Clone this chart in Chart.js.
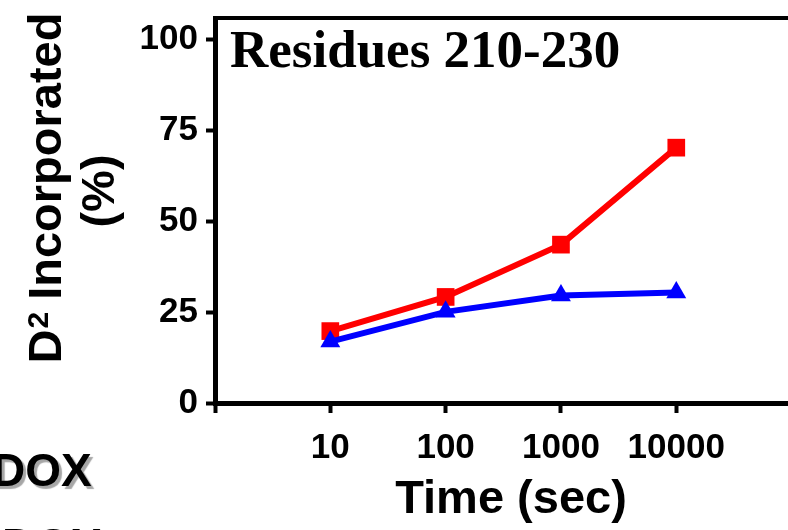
<!DOCTYPE html>
<html>
<head>
<meta charset="utf-8">
<script src="https://cdn.jsdelivr.net/npm/chart.js@4/dist/chart.umd.min.js"></script>
<style>
  html, body { margin: 0; padding: 0; background: #fff; }
  #wrap { width: 788px; height: 530px; overflow: hidden; position: relative; }
</style>
</head>
<body>
<div id="wrap"><canvas id="dexChart" width="830" height="530"></canvas></div>
<script>
// data
const times = [10, 100, 1000, 10000]
const noDox = [19.8, 29.2, 43.6, 70.3]    // red squares
const withDox = [16.9, 25.1, 29.6, 30.4]  // blue triangles
const xTicks = [1, 10, 100, 1000, 10000]
const xTickLabels = ['', '10', '100', '1000', '10000']
const yTicks = [0, 25, 50, 75, 100]
const panelTitle = 'Residues 210-230'
const xTitle = 'Time (sec)'
const yTitle = ['D', '2', ' Incorporated', '(%)']
const legendLabels = ['DOX', 'DOX']

const sans = 'Arial, "Liberation Sans", sans-serif'

// text drawn inside / around the plot
const extras = {
  id: 'extras',
  afterDraw(chart) {
    const { ctx, chartArea: { top, left } } = chart
    ctx.save()
    // top frame line
    ctx.strokeStyle = '#000'
    ctx.lineWidth = 4
    ctx.beginPath()
    ctx.moveTo(left - 2, top)
    ctx.lineTo(chart.width, top)
    ctx.stroke()

    // panel title
    ctx.fillStyle = '#000'
    ctx.font = 'bold 53px "Liberation Serif", "Times New Roman", serif'
    ctx.textAlign = 'left'
    ctx.textBaseline = 'alphabetic'
    ctx.fillText(panelTitle, left + 15, top + 49)

    // y title, D with a raised 2
    const big = 'bold 47px ' + sans
    const small = 'bold 30px ' + sans
    ctx.font = big
    const wD = ctx.measureText(yTitle[0]).width
    const wRest = ctx.measureText(yTitle[2]).width
    ctx.font = small
    const w2 = ctx.measureText(yTitle[1]).width
    const total = wD + w2 + wRest
    ctx.save()
    ctx.translate(61, 188)
    ctx.rotate(-Math.PI / 2)
    let x = -total / 2
    ctx.font = big
    ctx.fillText(yTitle[0], x, 0)
    x += wD
    ctx.font = small
    ctx.fillText(yTitle[1], x + 1, -13)
    x += w2
    ctx.font = big
    ctx.fillText(yTitle[2], x, 0)
    ctx.restore()

    ctx.save()
    ctx.translate(101, 191)
    ctx.rotate(-Math.PI / 2)
    ctx.font = big
    ctx.textAlign = 'center'
    ctx.textBaseline = 'middle'
    ctx.fillText(yTitle[3], 0, 0)
    ctx.restore()

    // cut-off legend labels
    ctx.font = 'bold 46px ' + sans
    ctx.textAlign = 'left'
    ctx.textBaseline = 'alphabetic'
    ctx.shadowColor = 'rgba(0,0,0,0.35)'
    ctx.shadowOffsetX = 3
    ctx.shadowOffsetY = 3
    ctx.shadowBlur = 1
    ctx.fillText(legendLabels[0], -8, 486)
    ctx.fillText(legendLabels[1], 2, 561)
    ctx.restore()
  }
}

const dexChart = new Chart(document.getElementById('dexChart'), {
  type: 'line',
  data: {
    labels: times,
    datasets: [{
      label: '-DOX',
      data: times.map((t, i) => ({ x: t, y: noDox[i] })),
      borderColor: '#FF0000',
      backgroundColor: '#FF0000',
      borderWidth: 6,
      pointStyle: 'rect',
      pointRadius: 12.5,
      pointBorderWidth: 0,
      tension: 0,
      order: 1
    },
    {
      label: '+DOX',
      data: times.map((t, i) => ({ x: t, y: withDox[i] })),
      borderColor: '#0000FF',
      backgroundColor: '#0000FF',
      borderWidth: 6,
      pointStyle: 'triangle',
      pointRadius: 11.5,
      pointBorderWidth: 0,
      tension: 0,
      order: 0
    }]
  },
  options: {
    responsive: false,
    animation: false,
    layout: {
      padding: { top: 18, right: 23, left: 0, bottom: 0 }
    },
    plugins: {
      legend: { display: false },
      tooltip: { enabled: false }
    },
    scales: {
      x: {
        type: 'logarithmic',
        min: 1,
        max: 136000,
        afterBuildTicks: s => { s.ticks = xTicks.map(v => ({ value: v })) },
        afterFit: s => { s.height = 127 },
        ticks: {
          autoSkip: false,
          maxRotation: 0,
          padding: 14,
          color: '#000',
          font: { family: sans, size: 35, weight: 'bold' },
          callback: (v, i) => xTickLabels[i]
        },
        grid: {
          drawOnChartArea: false,
          tickLength: 10,
          tickWidth: 4,
          tickColor: '#000'
        },
        border: { color: '#000', width: 5 },
        title: {
          display: true,
          text: xTitle,
          color: '#000',
          font: { family: sans, size: 47, weight: 'bold' },
          padding: { top: 0, bottom: 2 }
        }
      },
      y: {
        min: 0,
        max: 106,
        afterBuildTicks: s => { s.ticks = yTicks.map(v => ({ value: v })) },
        afterFit: s => { s.width = 215; s.paddingTop = 0; s.paddingBottom = 0 },
        ticks: {
          padding: 8,
          color: '#000',
          font: { family: sans, size: 35, weight: 'bold' }
        },
        grid: {
          drawOnChartArea: false,
          tickLength: 9,
          tickWidth: 4,
          tickColor: '#000'
        },
        border: { color: '#000', width: 5 }
      }
    }
  },
  plugins: [extras]
})
</script>
</body>
</html>
